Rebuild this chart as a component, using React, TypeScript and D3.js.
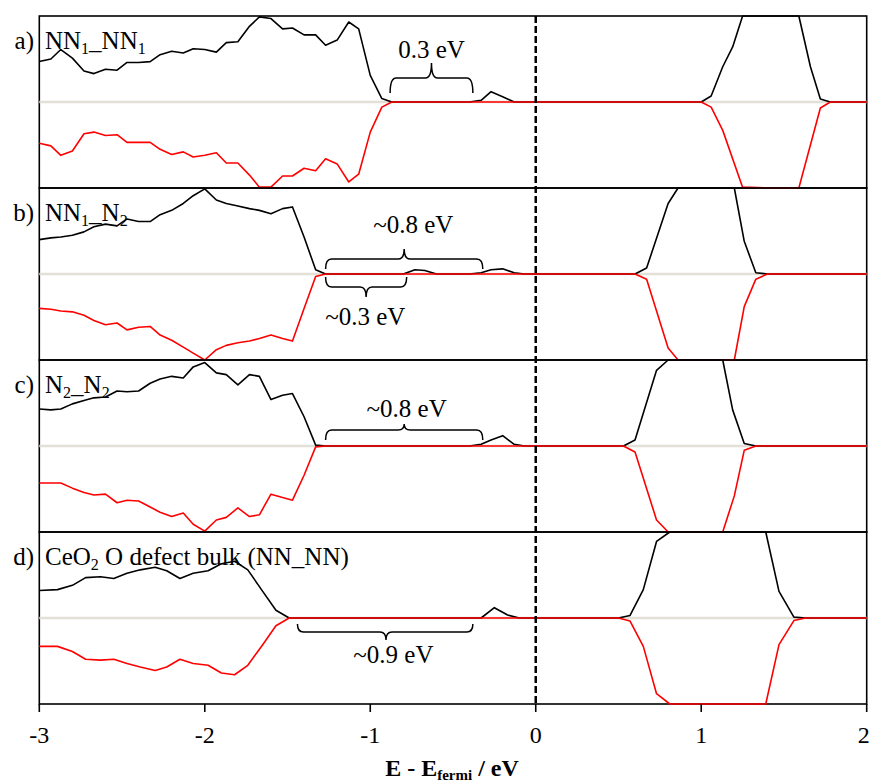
import React from 'react';
import * as d3 from 'd3';

// Energy grid (eV) shared by the valence-band parts of panels a-c
const energyGrid = [-3.00, -2.93, -2.87, -2.80, -2.73, -2.67, -2.60, -2.53, -2.47, -2.40, -2.33, -2.27, -2.20, -2.13, -2.07, -2.00, -1.93, -1.87, -1.80, -1.73, -1.67, -1.60, -1.53, -1.47, -1.40, -1.33, -1.27, -1.20, -1.13, -1.07, -1.00, -0.93, -0.87];
// Energy grid for panel d valence band
const energyGridD = [-3.00, -2.89, -2.80, -2.72, -2.63, -2.55, -2.47, -2.39, -2.30, -2.23, -2.15, -2.07, -1.98, -1.90, -1.82, -1.74, -1.65, -1.57, -1.49];

const xTicks = [-3, -2, -1, 0, 1, 2];

// Panel a) NN1_NN1
const aUpValence = [4.7, 5.0, 6.1, 5.1, 3.6, 3.3, 3.8, 3.7, 4.6, 4.6, 4.7, 5.5, 5.9, 5.7, 6.2, 6.1, 5.8, 6.9, 7.0, 8.8, 9.9, 9.7, 8.5, 8.6, 7.8, 7.8, 6.6, 7.2, 9.3, 8.5, 3.1, 0.4, 0.0];
const aDownValence = [-4.8, -5.1, -6.2, -5.7, -3.7, -3.5, -3.9, -3.8, -4.7, -4.7, -4.7, -5.5, -6.1, -5.8, -6.4, -6.2, -5.9, -7.1, -7.1, -8.5, -9.9, -9.9, -8.6, -8.6, -7.7, -8.0, -6.6, -7.2, -9.3, -8.4, -3.5, -0.6, 0.0];
const aUpGap: [number, number][] = [[-0.40, 0], [-0.33, 0.2], [-0.27, 1.2], [-0.20, 0.6], [-0.13, 0]];
const aUpConduction: [number, number][] = [[1.00, 0], [1.06, 0.7], [1.13, 4.1], [1.19, 6.4], [1.25, 10.0], [1.42, 13.0], [1.59, 10.0], [1.66, 4.1], [1.72, 0.35], [1.78, 0], [2.00, 0]];
const aDownConduction: [number, number][] = [[1.00, 0], [1.06, -0.6], [1.13, -3.3], [1.25, -9.9], [1.42, -13.0], [1.59, -10.0], [1.72, -0.7], [1.78, 0], [2.00, 0]];

// Panel b) NN1_N2
const bUpValence = [4.0, 4.2, 4.3, 4.5, 4.9, 5.5, 5.8, 5.6, 6.4, 6.1, 6.1, 6.9, 7.4, 8.2, 9.1, 9.9, 8.6, 8.2, 7.9, 7.6, 7.4, 7.0, 7.6, 7.8, 4.3, 0.5, 0.0];
const bDownValence = [-4.0, -4.1, -4.3, -4.4, -4.8, -5.4, -5.9, -5.7, -6.5, -6.2, -6.1, -7.1, -7.7, -8.5, -9.2, -10.0, -8.8, -8.3, -8.0, -7.8, -7.5, -7.1, -7.5, -7.8, -4.0, -0.3, 0.0];
const bUpGap: [number, number][] = [[-0.80, 0], [-0.73, 0.5], [-0.67, 0.4], [-0.60, 0], [-0.40, 0], [-0.33, 0.15], [-0.27, 0.5], [-0.20, 0.6], [-0.13, 0.15], [-0.07, 0]];
const bUpConduction: [number, number][] = [[0.60, 0], [0.67, 0.7], [0.80, 8.2], [0.86, 10.0], [1.03, 13.0], [1.20, 10.0], [1.26, 3.8], [1.33, 0.15], [1.40, 0], [2.00, 0]];
const bDownConduction: [number, number][] = [[0.60, 0], [0.67, -0.6], [0.80, -8.6], [0.86, -10.0], [1.03, -13.0], [1.20, -10.0], [1.26, -3.8], [1.33, -0.6], [1.40, 0], [2.00, 0]];

// Panel c) N2_N2
const cUpValence = [4.3, 4.2, 4.3, 4.9, 5.3, 5.6, 5.7, 6.4, 6.3, 6.4, 7.3, 7.8, 8.1, 7.9, 9.2, 9.7, 8.5, 8.3, 7.1, 8.3, 8.1, 5.4, 5.9, 6.1, 3.4, 0.1, 0.0];
const cDownValence = [-4.3, -4.3, -4.3, -4.9, -5.4, -5.7, -5.6, -6.6, -6.3, -6.4, -7.1, -7.7, -8.2, -7.8, -9.1, -9.9, -8.6, -8.3, -7.2, -8.2, -8.0, -5.6, -6.0, -6.3, -3.4, -0.1, 0.0];
const cUpGap: [number, number][] = [[-0.40, 0], [-0.33, 0.2], [-0.27, 0.7], [-0.20, 1.2], [-0.13, 0.2], [-0.07, 0]];
const cUpConduction: [number, number][] = [[0.53, 0], [0.60, 0.7], [0.73, 8.8], [0.80, 10.0], [0.97, 13.0], [1.13, 10.0], [1.19, 4.2], [1.26, 0.3], [1.33, 0], [2.00, 0]];
const cDownConduction: [number, number][] = [[0.53, 0], [0.60, -0.7], [0.73, -8.6], [0.80, -10.0], [0.97, -13.0], [1.13, -10.0], [1.20, -5.8], [1.26, -0.5], [1.33, 0], [2.00, 0]];

// Panel d) CeO2 O defect bulk (NN_NN)
const dUpValence = [3.2, 3.3, 3.8, 4.7, 4.8, 4.6, 5.2, 5.6, 5.9, 5.5, 4.6, 5.2, 5.5, 6.3, 6.6, 5.6, 3.1, 0.9, 0.0];
const dDownValence = [-3.3, -3.3, -3.9, -4.8, -4.9, -4.8, -5.3, -5.7, -6.1, -5.7, -4.8, -5.3, -5.5, -6.4, -6.6, -5.5, -3.1, -0.9, 0.0];
const dUpGap: [number, number][] = [[-0.33, 0], [-0.25, 1.2], [-0.17, 0.35], [-0.10, 0]];
const dUpConduction: [number, number][] = [[0.50, 0], [0.57, 0.3], [0.65, 3.3], [0.73, 8.9], [0.81, 10.0], [1.10, 13.0], [1.39, 10.0], [1.47, 3.1], [1.56, 0.1], [1.63, 0], [2.00, 0]];
const dDownConduction: [number, number][] = [[0.50, 0], [0.57, -0.35], [0.65, -3.3], [0.73, -8.8], [0.81, -10.0], [1.10, -13.0], [1.39, -10.0], [1.47, -3.1], [1.56, -0.3], [1.63, 0], [2.00, 0]];

const panelLetters = ['a)', 'b)', 'c)', 'd)'];
// [text, isSubscript]
const panelNames: [string, boolean][][] = [
  [['NN', false], ['1', true], ['_NN', false], ['1', true]],
  [['NN', false], ['1', true], ['_N', false], ['2', true]],
  [['N', false], ['2', true], ['_N', false], ['2', true]],
  [['CeO', false], ['2', true], [' O defect bulk (NN_NN)', false]],
];

// Gap annotations: panel, energy span, tip energy, label, label energy, direction
const gapLabels = [
  { panel: 0, from: -0.88, to: -0.38, tip: -0.63, text: '0.3 eV', textE: -0.63, dir: 'up' },
  { panel: 1, from: -1.27, to: -0.32, tip: -0.795, text: '~0.8 eV', textE: -0.74, dir: 'up' },
  { panel: 1, from: -1.27, to: -0.78, tip: -1.025, text: '~0.3 eV', textE: -1.03, dir: 'down' },
  { panel: 2, from: -1.27, to: -0.32, tip: -0.795, text: '~0.8 eV', textE: -0.78, dir: 'up' },
  { panel: 3, from: -1.44, to: -0.38, tip: -0.905, text: '~0.9 eV', textE: -0.86, dir: 'down' },
];

const zipGrid = (grid: number[], vals: number[]): [number, number][] => vals.map((v, i) => [grid[i], v]);

const series = [
  { up: [...zipGrid(energyGrid, aUpValence), ...aUpGap, ...aUpConduction], down: [...zipGrid(energyGrid, aDownValence), ...aDownConduction] },
  { up: [...zipGrid(energyGrid, bUpValence), ...bUpGap, ...bUpConduction], down: [...zipGrid(energyGrid, bDownValence), ...bDownConduction] },
  { up: [...zipGrid(energyGrid, cUpValence), ...cUpGap, ...cUpConduction], down: [...zipGrid(energyGrid, cDownValence), ...cDownConduction] },
  { up: [...zipGrid(energyGridD, dUpValence), ...dUpGap, ...dUpConduction], down: [...zipGrid(energyGridD, dDownValence), ...dDownConduction] },
];

const W = 869;
const H = 784;
const left = 39.3;
const right = 866.7;
const top = 16;
const panelH = 172;
const FONT = '"Liberation Serif", "Times New Roman", serif';

function bracePath(x1: number, x2: number, xm: number, ye: number, yb: number, yt: number) {
  const r = 6;
  return `M${x1},${ye} Q${x1},${yb} ${x1 + r},${yb} L${xm - r},${yb} Q${xm},${yb} ${xm},${yt} Q${xm},${yb} ${xm + r},${yb} L${x2 - r},${yb} Q${x2},${yb} ${x2},${ye}`;
}

export default function App() {
  const x = d3.scaleLinear().domain([-3, 2]).range([left, right]);
  const panels = series.map((s, i) => {
    const y0 = top + i * panelH;
    const y = d3.scaleLinear().domain([-10, 10]).range([y0 + panelH, y0]);
    const clamp = (v: number) => Math.max(-10, Math.min(10, v));
    const line = d3.line<[number, number]>().x(d => x(d[0])).y(d => y(clamp(d[1])));
    return { y0, y, upPath: line(s.up) || '', downPath: line(s.down) || '' };
  });
  const bottom = top + 4 * panelH;

  // brace geometry in pixels relative to panel baseline
  const braceGeom: Record<string, { ye: number; yb: number; yt: number; ty: number }> = {
    '0': { ye: -9, yb: -24, yt: -39, ty: -44 },
    '1u': { ye: -5, yb: -15, yt: -25, ty: -41 },
    '1d': { ye: 3, yb: 13, yt: 23, ty: 51 },
    '2': { ye: -6, yb: -16, yt: -22, ty: -29 },
    '3': { ye: 6, yb: 14, yt: 22, ty: 45 },
  };

  return (
    <svg width={W} height={H} style={{ position: 'absolute', left: 0, top: 0, background: '#fff' }} fontFamily={FONT}>
      <rect x={0} y={0} width={W} height={H} fill="#fff" />
      {panels.map((p, i) => (
        <g key={i}>
          <rect x={left} y={p.y0} width={right - left} height={panelH} fill="none" stroke="#000" strokeWidth={1.6} />
          <line x1={left} x2={right} y1={p.y(0)} y2={p.y(0)} stroke="#e3e0d6" strokeWidth={2.5} />
          <path d={p.upPath} fill="none" stroke="#000" strokeWidth={1.6} strokeLinejoin="round" />
          <path d={p.downPath} fill="none" stroke="#ff0000" strokeWidth={1.6} strokeLinejoin="round" />
          <text x={34} y={p.y0 + 33} fontSize={25} textAnchor="end" fill="#000">{panelLetters[i]}</text>
          <text x={45} y={p.y0 + 33} fontSize={25} fill="#000">
            {panelNames[i].map(([t, sub], k) => sub
              ? <tspan key={k} fontSize={16} dy={5}>{t}</tspan>
              : <tspan key={k} dy={k > 0 && panelNames[i][k - 1][1] ? -5 : 0}>{t}</tspan>)}
          </text>
        </g>
      ))}
      <line x1={x(0)} x2={x(0)} y1={top} y2={bottom} stroke="#000" strokeWidth={2.5} strokeDasharray="7 3" />
      {gapLabels.map((g, k) => {
        const p = panels[g.panel];
        const key = g.panel === 1 ? (g.dir === 'up' ? '1u' : '1d') : String(g.panel);
        const geo = braceGeom[key];
        const base = p.y(0);
        return (
          <g key={k}>
            <path d={bracePath(x(g.from), x(g.to), x(g.tip), base + geo.ye, base + geo.yb, base + geo.yt)} fill="none" stroke="#000" strokeWidth={1.5} />
            <text x={x(g.textE)} y={base + geo.ty} fontSize={25} textAnchor="middle" fill="#000">{g.text}</text>
          </g>
        );
      })}
      {xTicks.map(t => (
        <g key={t}>
          <line x1={x(t)} x2={x(t)} y1={bottom} y2={bottom + 8} stroke="#000" strokeWidth={1.6} />
          <text x={x(t)} y={bottom + 39} fontSize={24} textAnchor={t === 2 ? 'end' : 'middle'} dx={t === 2 ? 3 : 0} fill="#000">{String(t)}</text>
        </g>
      ))}
      <text x={452} y={776} fontSize={24} fontWeight="bold" textAnchor="middle" fill="#000">
        <tspan>E - E</tspan>
        <tspan fontSize={15} dy={4}>fermi</tspan>
        <tspan dy={-4}> / eV</tspan>
      </text>
    </svg>
  );
}
